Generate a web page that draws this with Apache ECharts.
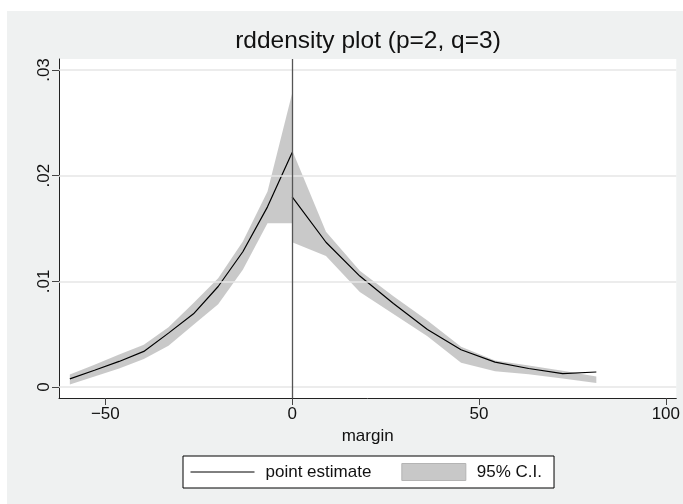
<!DOCTYPE html>
<html>
<head>
<meta charset="utf-8">
<script src="https://cdn.jsdelivr.net/npm/echarts@6/dist/echarts.min.js"></script>
<style>
html,body{margin:0;padding:0;background:#fff;}
#chart{width:683px;height:504px;}
</style>
</head>
<body>
<div id="chart"></div>
<script>
// ---- data ----
const xLeft   = [-59.5, -52.9, -46.3, -39.7, -33.1, -26.4, -19.8, -13.2, -6.6, 0];
const estLeft = [0.00077, 0.00159, 0.00242, 0.00337, 0.0051, 0.00693, 0.00951, 0.0128, 0.01705, 0.0222];
const hiLeft  = [0.00118, 0.00211, 0.00308, 0.0040, 0.00565, 0.00794, 0.0103, 0.01376, 0.0185, 0.0278];
const loLeft  = [0.00024, 0.00100, 0.00176, 0.00265, 0.0039, 0.00589, 0.00784, 0.01109, 0.0155, 0.0155];

const xRight   = [0, 9.05, 18.1, 27.1, 36.2, 45.2, 54.3, 63.3, 72.4, 81.4];
const estRight = [0.0180, 0.0137, 0.0105, 0.0079, 0.00545, 0.00353, 0.00235, 0.00175, 0.00126, 0.00142];
const hiRight  = [0.0224, 0.0147, 0.0110, 0.0086, 0.0063, 0.0038, 0.0025, 0.00203, 0.00154, 0.0010];
const loRight  = [0.0137, 0.0124, 0.0090, 0.0069, 0.0048, 0.0023, 0.00148, 0.0012, 0.0008, 0.00038];

const xTicks = [-50, 0, 50, 100];
const xTickLabels = ['\u221250', '0', '50', '100'];
const yTicks = [0, 0.01, 0.02, 0.03];
const yTickLabels = ['0', '.01', '.02', '.03'];
const cutoff = 0;

const titleText = 'rddensity plot (p=2, q=3)';
const xName = 'margin';
const estName = 'point estimate';
const ciName = '95% C.I.';

// ---- chart ----
const FONT = '"Liberation Sans", Arial, Helvetica, sans-serif';
const chart = echarts.init(document.getElementById('chart'), null, {renderer: 'canvas'});

function pairs(xs, ys) { return xs.map((x, i) => [x, ys[i]]); }
function labelFor(ticks, labels) {
  return function (v) {
    for (let i = 0; i < ticks.length; i++) if (Math.abs(v - ticks[i]) < 1e-9) return labels[i];
    return '';
  };
}
function bandRender(xs, lo, hi) {
  return function (params, api) {
    const pts = [];
    for (let i = 0; i < xs.length; i++) pts.push(api.coord([xs[i], hi[i]]));
    for (let i = xs.length - 1; i >= 0; i--) pts.push(api.coord([xs[i], lo[i]]));
    return {
      type: 'polygon',
      shape: {points: pts},
      style: {fill: 'rgba(180,180,180,0.72)', stroke: null}
    };
  };
}

const gridLineData = yTicks.map(v => ({yAxis: v, lineStyle: {color: '#e6e6e6', width: 1.5, type: 'solid'}}));
gridLineData.push({xAxis: cutoff, lineStyle: {color: '#555555', width: 1.3, type: 'solid'}});

const option = {
  animation: false,
  backgroundColor: '#ffffff',
  graphic: [{
    type: 'rect', z: -10, silent: true,
    shape: {x: 7, y: 11, width: 676, height: 493},
    style: {fill: '#eff1f1'}
  }],
  title: {
    text: titleText,
    left: 368, top: 29, textAlign: 'center', padding: 0,
    textStyle: {fontFamily: FONT, fontSize: 24.5, fontWeight: 'normal', color: '#111'}
  },
  grid: {
    left: 59, top: 59, width: 618, height: 339,
    show: true, backgroundColor: '#ffffff', borderWidth: 0, containLabel: false
  },
  legend: {
    left: 183, top: 456,
    orient: 'horizontal',
    padding: [7, 12, 7, 7],
    borderColor: '#000', borderWidth: 1, backgroundColor: '#ffffff',
    itemWidth: 64, itemHeight: 17, itemGap: 30,
    textStyle: {fontFamily: FONT, fontSize: 17, color: '#111', padding: [0, 0, 0, 6]},
    data: [
      {name: estName, itemStyle: {opacity: 0}, lineStyle: {color: '#000', width: 1}},
      {name: ciName, icon: 'rect', itemStyle: {color: '#c8c8c8', borderColor: '#b4b4b4', borderWidth: 1}}
    ],
    selectedMode: false
  },
  xAxis: {
    type: 'value', min: -62.4, max: 102.8,
    name: xName, nameLocation: 'middle', nameGap: 28,
    nameTextStyle: {fontFamily: FONT, fontSize: 17, color: '#111'},
    axisLine: {show: true, onZero: false, lineStyle: {color: '#222', width: 1}},
    axisTick: {show: true, length: 7, customValues: xTicks, lineStyle: {color: '#444', width: 1}},
    axisLabel: {customValues: xTicks, formatter: labelFor(xTicks, xTickLabels), margin: 8,
      fontFamily: FONT, fontSize: 17, color: '#111'},
    splitLine: {show: false}
  },
  yAxis: {
    type: 'value', min: -0.00104, max: 0.03104,
    axisLine: {show: true, onZero: false, lineStyle: {color: '#222', width: 1}},
    axisTick: {show: true, length: 7, customValues: yTicks, lineStyle: {color: '#444', width: 1}},
    axisLabel: {customValues: yTicks, formatter: labelFor(yTicks, yTickLabels), rotate: 90, margin: 6.5,
      fontFamily: FONT, fontSize: 17, color: '#111'},
    splitLine: {show: false}
  },
  series: [
    {
      type: 'line', name: '_guides', data: [], z: 1, silent: true,
      markLine: {silent: true, symbol: ['none', 'none'], label: {show: false},
        emphasis: {disabled: true}, animation: false, data: gridLineData}
    },
    {
      type: 'custom', name: ciName, z: 2, silent: true,
      itemStyle: {color: '#c8c8c8'},
      renderItem: bandRender(xLeft, loLeft, hiLeft),
      data: [[xLeft[0], loLeft[0]]]
    },
    {
      type: 'custom', name: ciName, z: 2, silent: true,
      itemStyle: {color: '#c8c8c8'},
      renderItem: bandRender(xRight, loRight, hiRight),
      data: [[xRight[0], loRight[0]]]
    },
    {
      type: 'line', name: estName, z: 4, symbol: 'none', silent: true,
      lineStyle: {color: '#000', width: 1.2}, itemStyle: {color: '#000'},
      data: pairs(xLeft, estLeft)
    },
    {
      type: 'line', name: estName, z: 4, symbol: 'none', silent: true,
      lineStyle: {color: '#000', width: 1.2}, itemStyle: {color: '#000'},
      data: pairs(xRight, estRight)
    }
  ]
};
chart.setOption(option);
</script>
</body>
</html>
